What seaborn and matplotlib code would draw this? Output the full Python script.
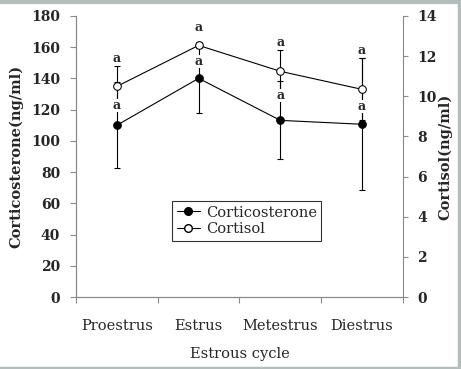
import numpy as np
import pandas as pd
import matplotlib
matplotlib.use("Agg")
import matplotlib.pyplot as plt
import seaborn as sns
from matplotlib.lines import Line2D

# datos
etapas = ["Proestrus", "Estrus", "Metestrus", "Diestrus"]
corticosterona = [110.0, 140.0, 113.1, 110.6]      # ng/ml (eje izquierdo)
corticosterona_se = [27.6, 22.4, 25.0, 42.3]
cortisol = [10.49, 12.53, 11.24, 10.34]            # ng/ml (eje derecho)
cortisol_se = [1.0, 0.15, 1.04, 1.54]
letras_corticosterona = ["a", "a", "a", "a"]
letras_cortisol = ["a", "a", "a", "a"]

sns.set_style("white")
plt.rcParams["font.family"] = ["DejaVu Serif"]

datos = pd.DataFrame({
    "x": np.arange(len(etapas)),
    "etapa": etapas,
    "corticosterona": corticosterona,
    "cortisol": cortisol,
})

fig = plt.figure(figsize=(4.61, 3.69), dpi=100)
ax = fig.add_axes([0.165, 0.195, 0.709, 0.762])
ax2 = ax.twinx()

# marco gris de la imagen (arriba, derecha, abajo)
borde = "#b4bcbc"
fig.add_artist(Line2D([0, 1], [0.995, 0.995], transform=fig.transFigure, color=borde, lw=3))
fig.add_artist(Line2D([0, 1], [0.004, 0.004], transform=fig.transFigure, color=borde, lw=2.5))
fig.add_artist(Line2D([0.996, 0.996], [0, 1], transform=fig.transFigure, color=borde, lw=2.5))

gris = "#8a8a8a"
ms = 5.5

# 1. Corticosterona (eje izquierdo)
ax.errorbar(datos["x"], datos["corticosterona"], yerr=corticosterona_se, fmt="none",
            ecolor="black", elinewidth=0.8, capsize=2, capthick=0.8, zorder=2)
sns.lineplot(data=datos, x="x", y="corticosterona", ax=ax, color="black", lw=0.8,
             marker="o", markersize=ms, markerfacecolor="black", markeredgecolor="black",
             zorder=3)

# 2. Cortisol (eje derecho)
ax2.errorbar(datos["x"], datos["cortisol"], yerr=cortisol_se, fmt="none",
             ecolor="black", elinewidth=0.8, capsize=2, capthick=0.8, zorder=2)
sns.lineplot(data=datos, x="x", y="cortisol", ax=ax2, color="black", lw=0.8,
             marker="o", markersize=ms, markerfacecolor="white", markeredgecolor="black",
             zorder=3)

# ejes
ax.set_xlim(-0.5, len(etapas) - 0.5)
ax.set_ylim(0, 180)
ax.set_yticks(np.arange(0, 181, 20))
ax2.set_ylim(0, 14)
ax2.set_yticks(np.arange(0, 15, 2))

# letras de significancia (encima de las lineas, con fondo blanco)
escala = 180 / 14
caja = dict(facecolor="white", edgecolor="none", pad=0.1)
for i in range(len(etapas)):
    medio = (corticosterona[i] + cortisol[i] * escala) / 2
    ax2.text(i, medio, letras_corticosterona[i], transform=ax.transData,
             ha="center", va="center", fontsize=9, fontweight="bold", bbox=caja, zorder=5)
    y_letra = max(cortisol[i] + cortisol_se[i] + 0.4, cortisol[i] + 0.9)
    ax2.text(i, y_letra, letras_cortisol[i], ha="center", va="center",
             fontsize=9, fontweight="bold", bbox=caja, zorder=5)

ax.set_xticks(np.arange(-0.5, len(etapas), 1.0))
ax.set_xticklabels([])
ax.set_xticks(np.arange(len(etapas)), minor=True)
ax.set_xticklabels(etapas, minor=True)
ax.tick_params(axis="x", which="minor", length=0, pad=16, labelsize=10.5)
ax.tick_params(axis="x", which="major", direction="out", length=4.5, color=gris, bottom=True)
ax.tick_params(axis="y", direction="out", length=4.5, color=gris, pad=7, labelsize=10,
               left=True)
ax2.tick_params(axis="y", direction="out", length=3.5, color=gris, pad=7, labelsize=10,
                right=True)
for t in ax.get_yticklabels() + ax2.get_yticklabels():
    t.set_fontweight("bold")

for a in (ax, ax2):
    a.spines["top"].set_visible(False)
    for s in ("left", "right", "bottom"):
        a.spines[s].set_color(gris)
        a.spines[s].set_linewidth(0.8)
ax.spines["right"].set_visible(False)

ax.set_xlabel("Estrous cycle", fontsize=10.5)
ax.xaxis.set_label_coords(0.5, -0.178)
ax.set_ylabel("Corticosterone(ng/ml)", fontsize=10.5, fontweight="bold")
ax.yaxis.set_label_coords(-0.16, 0.5)
ax2.set_ylabel("Cortisol(ng/ml)", fontsize=10.5, fontweight="bold", rotation=90)
ax2.yaxis.set_label_coords(1.107, 0.5)

handles = [
    Line2D([], [], color="black", lw=0.8, marker="o", markersize=ms,
           markerfacecolor="black", label="Corticosterone"),
    Line2D([], [], color="black", lw=0.8, marker="o", markersize=ms,
           markerfacecolor="white", label="Cortisol"),
]
leg = ax2.legend(handles=handles, loc="lower left", bbox_to_anchor=(0.294, 0.2),
                 frameon=True, fancybox=False, fontsize=10.5, handlelength=1.6,
                 handletextpad=0.4, borderpad=0.3, labelspacing=0.2, borderaxespad=0)
leg.get_frame().set_edgecolor("black")
leg.get_frame().set_linewidth(0.8)

fig.savefig("out.png", dpi=100)
